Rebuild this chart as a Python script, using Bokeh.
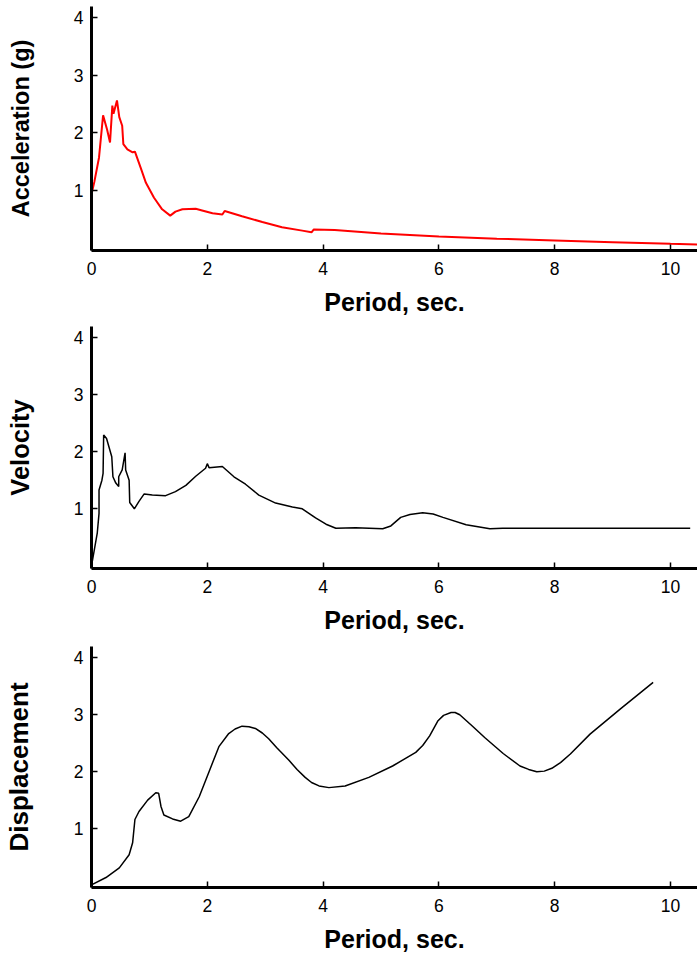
from bokeh.plotting import figure
from bokeh.models import FixedTicker, Range1d
from bokeh.layouts import column
from bokeh.embed import file_html
from bokeh.resources import INLINE

# ---- data ----
x_ticks = [0, 2, 4, 6, 8, 10]
y_ticks = [1, 2, 3, 4]
x_title = "Period, sec."

acc_period = [0.0, 0.05, 0.13, 0.20, 0.27, 0.32, 0.36, 0.38, 0.44, 0.48, 0.53, 0.55, 0.62, 0.71,
              0.75, 0.85, 0.94, 1.08, 1.22, 1.36, 1.45, 1.57, 1.80, 1.91, 2.09, 2.26, 2.30,
              2.60, 2.95, 3.29, 3.64, 3.80, 3.84, 4.2, 5.0, 6.0, 7.0, 8.0, 9.0, 10.0, 10.47]
acc_value = [0.93, 1.15, 1.57, 2.30, 2.05, 1.83, 2.47, 2.33, 2.56, 2.27, 2.12, 1.80, 1.71, 1.66,
             1.67, 1.39, 1.13, 0.87, 0.67, 0.56, 0.63, 0.67, 0.68, 0.65, 0.60, 0.58, 0.64,
             0.55, 0.45, 0.36, 0.30, 0.27, 0.32, 0.31, 0.25, 0.20, 0.16, 0.13, 0.10, 0.07, 0.06]

vel_period = [0.0, 0.10, 0.13, 0.13, 0.18, 0.20, 0.21, 0.26, 0.35, 0.37, 0.42, 0.47, 0.47, 0.53,
              0.58, 0.59, 0.65, 0.66, 0.74, 0.82, 0.91, 1.05, 1.28, 1.45, 1.63, 1.80, 1.97, 2.00,
              2.03, 2.26, 2.46, 2.66, 2.89, 3.18, 3.47, 3.64, 3.87, 4.05, 4.22, 4.56, 5.03, 5.17,
              5.34, 5.50, 5.72, 5.90, 6.07, 6.47, 6.88, 7.10, 10.34]
vel_value = [0.0, 0.58, 0.92, 1.33, 1.50, 1.62, 2.29, 2.23, 1.91, 1.56, 1.45, 1.39, 1.56, 1.68,
             1.98, 1.68, 1.50, 1.11, 1.00, 1.13, 1.26, 1.24, 1.23, 1.30, 1.41, 1.57, 1.71, 1.79,
             1.72, 1.74, 1.56, 1.43, 1.24, 1.10, 1.03, 1.00, 0.84, 0.73, 0.66, 0.67, 0.65, 0.70,
             0.85, 0.90, 0.93, 0.91, 0.85, 0.72, 0.65, 0.66, 0.66]

dis_period = [0.0, 0.25, 0.48, 0.65, 0.71, 0.75, 0.82, 0.97, 1.11, 1.16, 1.20, 1.25, 1.40, 1.54,
              1.68, 1.86, 2.03, 2.20, 2.37, 2.48, 2.60, 2.72, 2.83, 2.95, 3.06, 3.20, 3.41, 3.55,
              3.69, 3.80, 3.93, 4.10, 4.38, 4.79, 5.20, 5.60, 5.72, 5.84, 5.98, 6.08, 6.21, 6.28,
              6.36, 6.59, 6.79, 7.11, 7.40, 7.55, 7.69, 7.82, 7.95, 8.10, 8.27, 8.61, 9.13, 9.70]
dis_value = [0.0, 0.13, 0.30, 0.53, 0.74, 1.15, 1.29, 1.49, 1.62, 1.61, 1.38, 1.23, 1.16, 1.12,
             1.20, 1.55, 1.99, 2.43, 2.66, 2.74, 2.79, 2.78, 2.75, 2.67, 2.57, 2.41, 2.19, 2.03,
             1.89, 1.80, 1.74, 1.71, 1.74, 1.89, 2.09, 2.33, 2.45, 2.62, 2.88, 2.98, 3.03, 3.03,
             2.99, 2.78, 2.59, 2.31, 2.09, 2.03, 1.99, 2.00, 2.05, 2.15, 2.30, 2.65, 3.09, 3.56]

FONT = "Liberation Sans"


def make_fig(height, top, bottom, ylabel, ylabel_size):
    p = figure(width=697, height=height,
               x_range=Range1d(0, 10.466), y_range=Range1d(-0.045, 4.19),
               output_backend="svg", toolbar_location=None,
               min_border_left=90, min_border_right=0,
               min_border_top=top, min_border_bottom=bottom)
    p.outline_line_color = None
    p.xgrid.grid_line_color = None
    p.ygrid.grid_line_color = None
    p.background_fill_color = "white"
    p.border_fill_color = "white"
    p.xaxis.ticker = FixedTicker(ticks=x_ticks)
    p.yaxis.ticker = FixedTicker(ticks=y_ticks)
    for ax in (p.xaxis[0], p.yaxis[0]):
        ax.axis_line_width = 3
        ax.axis_line_color = "black"
        ax.major_tick_in = 6
        ax.major_tick_out = 0
        ax.major_tick_line_width = 1.5
        ax.major_tick_line_color = "black"
        ax.minor_tick_line_color = None
        ax.major_label_text_font = FONT
        ax.major_label_text_font_size = "17.5px"
        ax.major_label_text_color = "black"
        ax.axis_label_text_font = FONT
        ax.axis_label_text_font_style = "bold"
        ax.axis_label_text_color = "black"
    p.xaxis.axis_label = x_title
    p.xaxis.axis_label_text_font_size = "25px"
    p.xaxis.major_label_standoff = 11
    p.xaxis.axis_label_standoff = 10
    p.yaxis.axis_label = ylabel
    p.yaxis.axis_label_text_font_size = ylabel_size
    p.yaxis.major_label_standoff = 8
    p.yaxis.axis_label_standoff = 37
    return p


p1 = make_fig(318, 6, 68, "Acceleration (g)", "23.5px")
p1.line(acc_period, acc_value, line_color="#ff0000", line_width=2)

p2 = make_fig(320, 8, 70, "Velocity", "25.5px")
p2.line(vel_period, vel_value, line_color="black", line_width=1.5)

p3 = make_fig(317, 8, 67, "Displacement", "26px")
p3.line(dis_period, dis_value, line_color="black", line_width=1.5)

p = column(p1, p2, p3, spacing=0)
open("out.html", "w").write(file_html(p, INLINE))
